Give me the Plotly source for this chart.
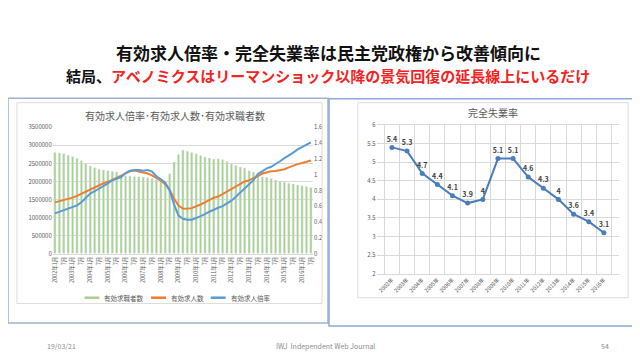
import plotly.graph_objects as go

# ---------------- data ----------------
# quarterly categories 2002年1月 .. 2016年7月
quarters = [f"{y}年{m}月" for y in range(2002, 2017) for m in (1, 4, 7, 10)][:59]
tick_pos = quarters[::2]
tick_text = []
for y in range(2002, 2017):
    tick_text += [f"{y}年1月", "7月"]

seekers = [2.80, 2.79, 2.77, 2.73, 2.69, 2.64, 2.58, 2.50, 2.43, 2.38,
           2.34, 2.32, 2.30, 2.28, 2.26, 2.18, 2.16, 2.15, 2.14, 2.13,
           2.12, 2.10, 2.08, 2.05, 2.03, 1.98, 2.21, 2.54, 2.75, 2.87,
           2.84, 2.80, 2.77, 2.72, 2.68, 2.65, 2.62, 2.63, 2.60, 2.55,
           2.49, 2.44, 2.40, 2.37, 2.30, 2.26, 2.18, 2.13, 2.11, 2.08,
           2.04, 2.01, 1.98, 1.95, 1.93, 1.90, 1.88, 1.86, 1.83]
seekers = [v * 1e6 for v in seekers]

openings = [1.42, 1.45, 1.48, 1.52, 1.55, 1.60, 1.66, 1.72, 1.78, 1.84,
            1.90, 1.95, 1.99, 2.05, 2.10, 2.16, 2.22, 2.28, 2.30, 2.28,
            2.25, 2.22, 2.17, 2.10, 2.02, 1.92, 1.77, 1.52, 1.33, 1.25,
            1.24, 1.26, 1.30, 1.36, 1.42, 1.48, 1.55, 1.58, 1.65, 1.72,
            1.80, 1.88, 1.95, 2.00, 2.03, 2.08, 2.15, 2.22, 2.26, 2.28,
            2.29, 2.31, 2.34, 2.39, 2.44, 2.48, 2.51, 2.55, 2.58]
openings = [v * 1e6 for v in openings]

ratio = [0.51, 0.53, 0.55, 0.57, 0.59, 0.61, 0.65, 0.70, 0.76, 0.79,
         0.82, 0.85, 0.89, 0.93, 0.95, 0.97, 1.02, 1.05, 1.06, 1.06,
         1.05, 1.06, 1.04, 0.98, 0.94, 0.90, 0.80, 0.62, 0.48, 0.44,
         0.43, 0.43, 0.45, 0.47, 0.50, 0.53, 0.56, 0.58, 0.60, 0.63,
         0.67, 0.72, 0.77, 0.82, 0.87, 0.93, 1.01, 1.05, 1.08, 1.10,
         1.13, 1.17, 1.21, 1.24, 1.28, 1.32, 1.35, 1.38, 1.41]

years = ["2002年", "2003年", "2004年", "2005年", "2006年", "2007年", "2008年",
         "2009年", "2010年", "2011年", "2012年", "2013年", "2014年", "2015年", "2016年"]
unemployment = [5.4, 5.3, 4.7, 4.4, 4.1, 3.9, 4.0, 5.1, 5.1, 4.6, 4.3, 4.0, 3.6, 3.4, 3.1]

# ---------------- helpers ----------------
W, H = 640, 360
def px(x):
    return x / W
def py(y):
    return 1 - y / H

FONT = "Noto Sans CJK JP"
GREEN, ORANGE, BLUE = "#a9d18e", "#ed7d31", "#5b9bd5"
LINE_BLUE = "#4a7ebb"
GRID = "#d9d9d9"
TICK = "#595959"

fig = go.Figure()

# left chart
fig.add_trace(go.Bar(x=quarters, y=seekers, marker_color=GREEN, name="有効求職者数",
                     xaxis="x", yaxis="y", showlegend=False))
fig.add_trace(go.Scatter(x=quarters, y=openings, mode="lines", name="有効求人数",
                         line=dict(color=ORANGE, width=2), xaxis="x", yaxis="y",
                         showlegend=False))
fig.add_trace(go.Scatter(x=quarters, y=ratio, mode="lines", name="有効求人倍率",
                         line=dict(color=BLUE, width=2), xaxis="x", yaxis="y2",
                         showlegend=False))

# right chart
fig.add_trace(go.Scatter(x=years, y=unemployment, mode="lines+markers+text",
                         texttemplate="%{y}", textposition="top center",
                         textfont=dict(size=7, color="#404040", family=FONT, weight="bold"),
                         line=dict(color=LINE_BLUE, width=2),
                         marker=dict(size=5, color=LINE_BLUE),
                         xaxis="x3", yaxis="y3", showlegend=False, cliponaxis=False))

fig.update_layout(
    width=W, height=H, autosize=False,
    margin=dict(l=0, r=0, t=0, b=0),
    paper_bgcolor="white", plot_bgcolor="white",
    font=dict(family=FONT, color=TICK),
    bargap=0.5,
    xaxis=dict(domain=[px(43), px(305)], anchor="y", type="category",
               tickmode="array", tickvals=tick_pos, ticktext=tick_text,
               tickangle=-90, tickfont=dict(size=5.5, color=TICK),
               showline=True, linecolor=GRID, showgrid=False, ticks=""),
    yaxis=dict(domain=[py(246.7), py(117.3)], range=[0, 3500000], dtick=500000,
               tickformat="d", tickfont=dict(size=6, color=TICK),
               gridcolor=GRID, zeroline=False, showline=False, ticks=""),
    yaxis2=dict(overlaying="y", side="right", anchor="x", range=[0, 1.6], dtick=0.2,
                tickfont=dict(size=6, color=TICK), showgrid=False, zeroline=False,
                ticks=""),
    xaxis3=dict(domain=[px(369), px(613)], anchor="y3", type="category",
                tickson="boundaries", showgrid=True, gridcolor=GRID,
                tickangle=-45, tickfont=dict(size=5.5, color=TICK), ticks="",
                showline=True, linecolor=GRID, mirror=True),
    yaxis3=dict(domain=[py(267.3), py(115)], anchor="x3", range=[2, 6], dtick=0.5,
                tickfont=dict(size=6, color=TICK), gridcolor=GRID, zeroline=False,
                ticks=""),
)

shapes = []
# frames
shapes.append(dict(type="rect", xref="paper", yref="paper", x0=px(-2), x1=px(320),
                   y0=py(318), y1=py(87.5), line=dict(color="#9fb2cc", width=1.5)))
shapes.append(dict(type="rect", xref="paper", yref="paper", x0=px(7), x1=px(314),
                   y0=py(298), y1=py(92), line=dict(color="#dcdcdc", width=1)))
shapes.append(dict(type="rect", xref="paper", yref="paper", x0=px(321), x1=px(631),
                   y0=py(321), y1=py(88), line=dict(color="#8faadc", width=1.5)))
shapes.append(dict(type="rect", xref="paper", yref="paper", x0=px(350), x1=px(622),
                   y0=py(292), y1=py(92), line=dict(color="#dcdcdc", width=1)))

# custom legend for left chart
legend_items = [("有効求職者数", GREEN, 75), ("有効求人数", ORANGE, 142), ("有効求人倍率", BLUE, 202)]
annotations = []
for name, col, x0 in legend_items:
    shapes.append(dict(type="line", xref="paper", yref="paper", x0=px(x0), x1=px(x0 + 15),
                       y0=py(292), y1=py(292), line=dict(color=col, width=2.5)))
    annotations.append(dict(text=name, x=px(x0 + 18), y=py(292), xref="paper", yref="paper",
                            xanchor="left", yanchor="middle", showarrow=False,
                            font=dict(size=6.5, color=TICK, family=FONT)))

# titles
annotations += [
    dict(text="<b>有効求人倍率・完全失業率は民主党政権から改善傾向に</b>",
         x=0.5, y=py(40), xref="paper", yref="paper", xanchor="center", yanchor="middle",
         showarrow=False, font=dict(size=17, color="#111111", family=FONT)),
    dict(text="<b>結局、<span style='color:#f22424'>アベノミクスはリーマンショック以降の景気回復の延長線上にいるだけ</span></b>",
         x=0.5, y=py(64), xref="paper", yref="paper", xanchor="center", yanchor="middle",
         showarrow=False, font=dict(size=15, color="#111111", family=FONT)),
    dict(text="有効求人倍率･有効求人数･有効求職者数", x=px(166), y=py(105), xref="paper",
         yref="paper", xanchor="center", yanchor="middle", showarrow=False,
         font=dict(size=10, color="#595959", family=FONT)),
    dict(text="完全失業率", x=px(486), y=py(102), xref="paper", yref="paper",
         xanchor="center", yanchor="middle", showarrow=False,
         font=dict(size=10, color="#595959", family=FONT)),
    dict(text="19/03/21", x=px(52), y=py(342), xref="paper", yref="paper",
         xanchor="center", yanchor="middle", showarrow=False,
         font=dict(size=7, color="#8c8c8c", family=FONT)),
    dict(text="IWJ  Independent Web Journal", x=px(317), y=py(342), xref="paper", yref="paper",
         xanchor="center", yanchor="middle", showarrow=False,
         font=dict(size=7, color="#8c8c8c", family=FONT)),
    dict(text="54", x=px(599), y=py(342), xref="paper", yref="paper",
         xanchor="center", yanchor="middle", showarrow=False,
         font=dict(size=7, color="#8c8c8c", family=FONT)),
]

fig.update_layout(shapes=shapes, annotations=annotations)
fig.write_html("out.html")
